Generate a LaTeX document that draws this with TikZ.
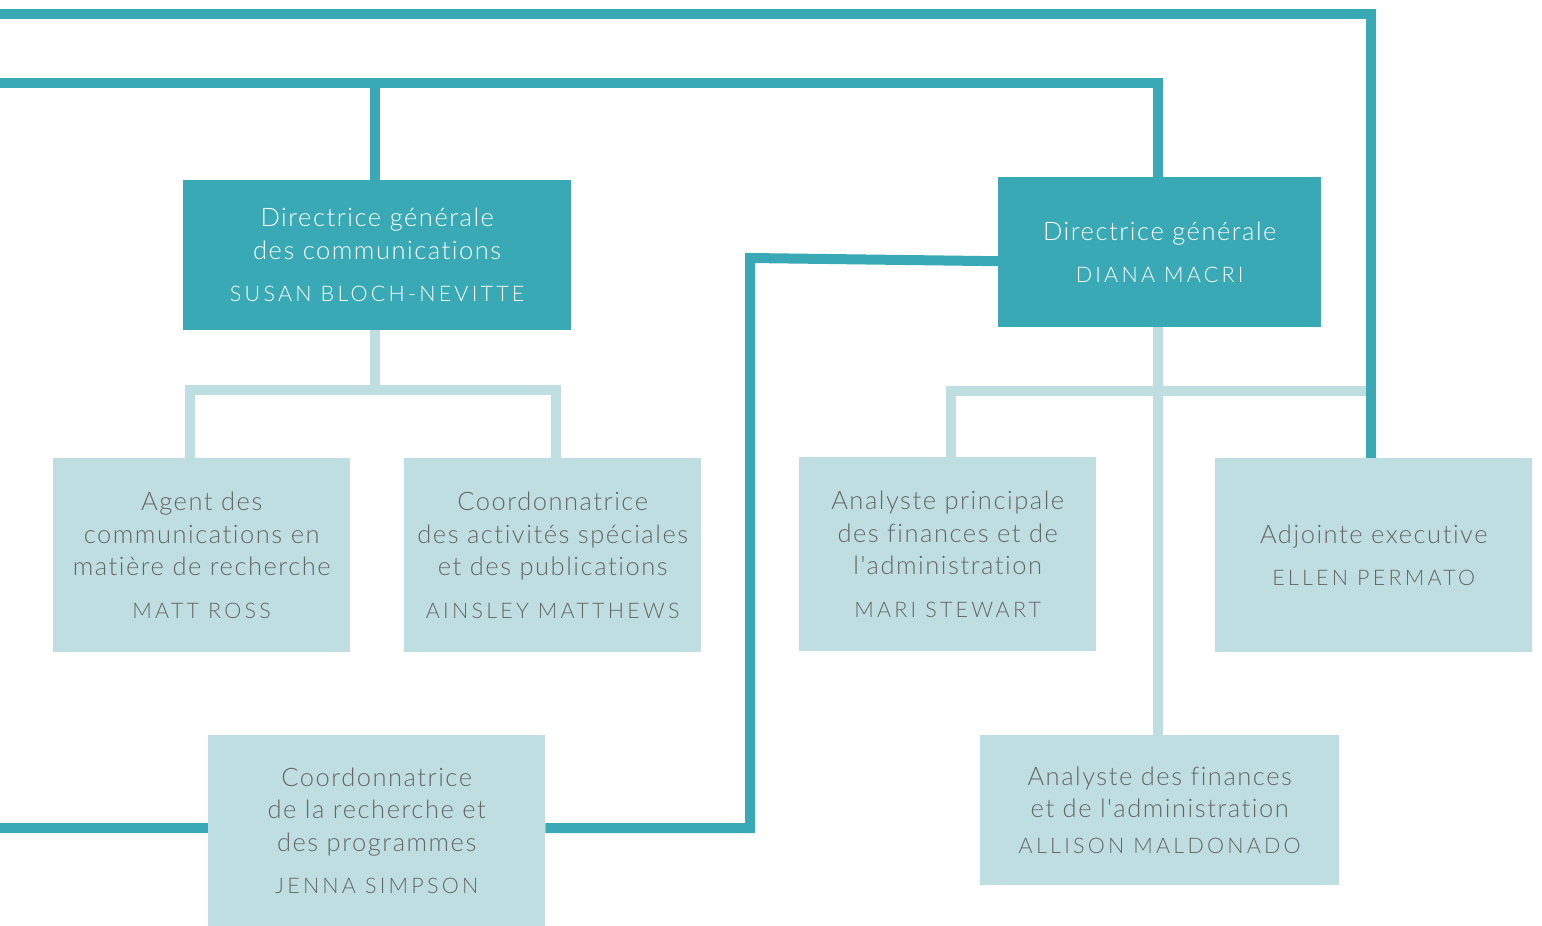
\documentclass[tikz,border=0pt]{standalone}
\usepackage{fontspec}
\setmainfont{Lato Light}[Ligatures={TeXOff,NoCommon}, LetterSpace=6]
\definecolor{dkc}{HTML}{38A9B5}
\definecolor{ltc}{HTML}{BFDEE1}
\definecolor{txc}{HTML}{666666}
\newcommand{\nm}[1]{{\fontsize{21.5}{32.5}\selectfont\addfontfeature{LetterSpace=15}#1}}
\tikzset{
  box/.style={anchor=north west, inner sep=0pt, align=center,
    font=\fontsize{25.5}{32.5}\selectfont},
  dkbox/.style={box, fill=dkc, text=white},
  ltbox/.style={box, fill=ltc, text=txc},
  dkline/.style={draw=dkc, line width=10pt},
  ltline/.style={draw=ltc, line width=10pt},
}
\begin{document}
\begin{tikzpicture}[x=1pt,y=-1pt]
\useasboundingbox (0,0) rectangle (1542,926);
% boxes
\node[dkbox, minimum width=388pt, minimum height=150pt] (susan) at (183,180)
  {Directrice générale\\des communications\\[10pt]\nm{SUSAN BLOCH-NEVITTE}};
\node[dkbox, minimum width=323pt, minimum height=150pt] (diana) at (998,177)
  {Directrice générale\\[10pt]\nm{DIANA MACRI}};
\node[ltbox, minimum width=297pt, minimum height=194pt] (matt) at (53,458)
  {Agent des\\communications en\\matière de recherche\\[10pt]\nm{MATT ROSS}};
\node[ltbox, minimum width=297pt, minimum height=194pt] (ains) at (404,458)
  {Coordonnatrice\\des activités spéciales\\et des publications\\[10pt]\nm{AINSLEY MATTHEWS}};
\node[ltbox, minimum width=297pt, minimum height=194pt] (mari) at (799,457)
  {Analyste principale\\des finances et de\\l'administration\\[10pt]\nm{MARI STEWART}};
\node[ltbox, minimum width=317pt, minimum height=194pt] (adj) at (1215,458)
  {Adjointe executive\\[10pt]\nm{ELLEN PERMATO}};
\node[ltbox, minimum width=359pt, minimum height=150pt] (allison) at (980,735)
  {Analyste des finances\\et de l'administration\\[3pt]\nm{ALLISON MALDONADO}};
\node[ltbox, minimum width=337pt, minimum height=191pt] (jenna) at (208,735)
  {Coordonnatrice\\de la recherche et\\des programmes\\[10pt]\nm{JENNA SIMPSON}};
% helper coordinates
\coordinate (L1) at (0,13.5);
\coordinate (L2) at (0,82.5);
\coordinate (L3) at (0,828);
\coordinate (tr) at (1370.5,13.5);
\coordinate (sj) at ([xshift=-2pt,yshift=-60pt]susan.south);
\coordinate (dj) at ([xshift=-1.5pt,yshift=-64pt]diana.south);
\coordinate (jc) at (750,258);
% light connectors
\draw[ltline] ([xshift=-2pt]susan.south) -- (sj);
\draw[ltline] ([xshift=-11.5pt]matt.north) |- (sj) -| ([xshift=3.5pt]ains.north);
\draw[ltline] ([xshift=-1.5pt]diana.south) -- ([xshift=-1.5pt]allison.north);
\draw[ltline] ([xshift=3.5pt]mari.north) |- (dj) -- (dj -| tr);
% dark connectors
\draw[dkline] (L1) -- (tr) -- (tr |- adj.north);
\draw[dkline] (L2) -| ([xshift=-1.5pt]diana.north);
\draw[dkline] ([xshift=-2pt]susan.north) -- ([xshift=-2pt]susan.north |- L2);
\draw[dkline] (L3) -- (L3 -| jenna.west);
\draw[dkline] (L3 -| jenna.east) -| (jc) -- ([yshift=-9pt]diana.west);
\end{tikzpicture}
\end{document}
